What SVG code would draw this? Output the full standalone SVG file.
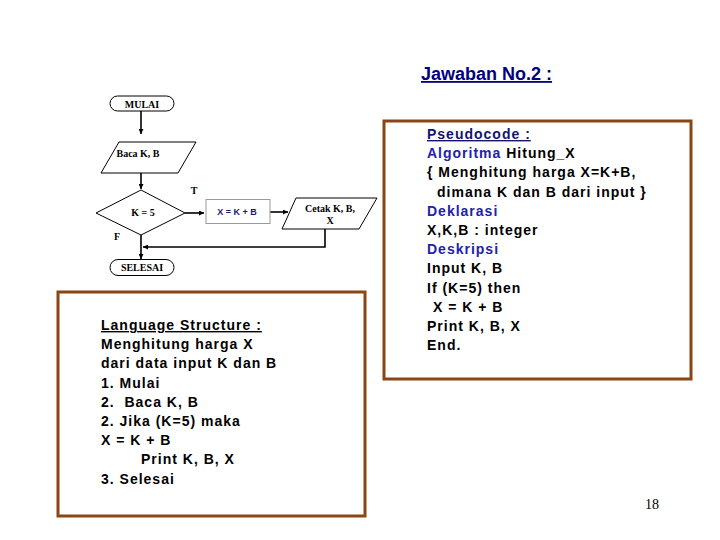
<svg xmlns="http://www.w3.org/2000/svg" width="720" height="540" viewBox="0 0 720 540">
<defs>
<marker id="ah" viewBox="0 0 10 10" refX="10" refY="5" markerWidth="5" markerHeight="5" orient="auto" markerUnits="userSpaceOnUse">
<path d="M0,0 L10,5 L0,10 z" fill="#000"/>
</marker>
<style>
.fc{font-family:"Liberation Serif","Times New Roman",serif;font-weight:bold;font-size:10px;fill:#000;text-anchor:middle}
.sh{fill:#fff;stroke:#000;stroke-width:1}
.ln{fill:none;stroke:#000;stroke-width:1.6}
.box{fill:#fff;stroke:#8B4513;stroke-width:3}
.tx{font-family:"Liberation Sans",Arial,sans-serif;font-weight:bold;font-size:14px;letter-spacing:1px;fill:#000}
.bl{fill:#2222AA}
</style>
</defs>
<rect width="720" height="540" fill="#fff"/>

<text x="421" y="80" font-family="Liberation Sans, Arial, sans-serif" font-weight="bold" font-size="18" fill="#000080" text-decoration="underline">Jawaban No.2 :</text>

<g id="connectors">
<line class="ln" x1="141" y1="111" x2="141" y2="134" marker-end="url(#ah)"/>
<line class="ln" x1="141" y1="173" x2="141" y2="189" marker-end="url(#ah)"/>
<line class="ln" x1="185" y1="213" x2="204" y2="213" marker-end="url(#ah)"/>
<line class="ln" x1="270" y1="212" x2="288" y2="212" marker-end="url(#ah)"/>
<polyline class="ln" stroke-width="2" points="325,229 325,247 143,247" marker-end="url(#ah)"/>
<line class="ln" x1="141" y1="235" x2="141" y2="259" marker-end="url(#ah)"/>
</g>

<g id="mulai">
<rect class="sh" x="110" y="96" width="64" height="15" rx="7.5"/>
<text class="fc" x="142" y="107.5">MULAI</text>
</g>
<g id="baca">
<polygon class="sh" points="119,142 196,142 178,173 101,173"/>
<text class="fc" x="138" y="156.5">Baca K, B</text>
</g>
<g id="decision">
<polygon class="sh" points="141,190 185,213 141,235 96,213"/>
<text class="fc" x="143" y="216">K = 5</text>
<text class="fc" x="194" y="193.5" font-weight="normal">T</text>
<text class="fc" x="117" y="239.5" font-weight="normal">F</text>
</g>
<g id="proses">
<rect x="206" y="199.5" width="64" height="24" fill="#fff" stroke="#999" stroke-width="1"/>
<text x="237" y="215" font-family="Liberation Sans, Arial, sans-serif" font-weight="bold" font-size="9" fill="#1a1a6e" text-anchor="middle">X = K + B</text>
</g>
<g id="cetak">
<polygon class="sh" points="296,198 377,198 359,229 282,229"/>
<text class="fc" x="330" y="212">Cetak K, B,</text>
<text class="fc" x="330" y="224">X</text>
</g>
<g id="selesai">
<rect class="sh" x="110" y="259.5" width="64" height="16" rx="8"/>
<text class="fc" x="142" y="271">SELESAI</text>
</g>

<g id="pseudocode">
<rect class="box" x="384" y="121" width="307" height="258"/>
<text class="tx" x="427" y="139" style="fill:#14146E" text-decoration="underline">Pseudocode :</text>
<text class="tx" x="427" y="158.2"><tspan class="bl">Algoritma</tspan> Hitung_X</text>
<text class="tx" x="427" y="177.4">{ Menghitung harga X=K+B,</text>
<text class="tx" x="437" y="196.6">dimana K dan B dari input }</text>
<text class="tx bl" x="427" y="215.8">Deklarasi</text>
<text class="tx" x="427" y="235">X,K,B : integer</text>
<text class="tx bl" x="427" y="254.2">Deskripsi</text>
<text class="tx" x="427" y="273.4">Input K, B</text>
<text class="tx" x="427" y="292.6">If (K=5) then</text>
<text class="tx" x="433" y="311.8">X = K + B</text>
<text class="tx" x="427" y="331">Print K, B, X</text>
<text class="tx" x="427" y="350.2">End.</text>
</g>

<g id="language">
<rect class="box" x="58" y="292" width="307" height="224"/>
<text class="tx" x="101" y="330" text-decoration="underline">Language Structure :</text>
<text class="tx" x="101" y="349.2">Menghitung harga X</text>
<text class="tx" x="101" y="368.4">dari data input K dan B</text>
<text class="tx" x="101" y="387.6">1. Mulai</text>
<text class="tx" x="101" y="406.8" xml:space="preserve">2.  Baca K, B</text>
<text class="tx" x="101" y="426">2. Jika (K=5) maka</text>
<text class="tx" x="101" y="445.2">X = K + B</text>
<text class="tx" x="141" y="464.4">Print K, B, X</text>
<text class="tx" x="101" y="483.6">3. Selesai</text>
</g>

<text x="652" y="509" font-family="Liberation Serif, Times New Roman, serif" font-size="14" fill="#000" text-anchor="middle">18</text>
</svg>
